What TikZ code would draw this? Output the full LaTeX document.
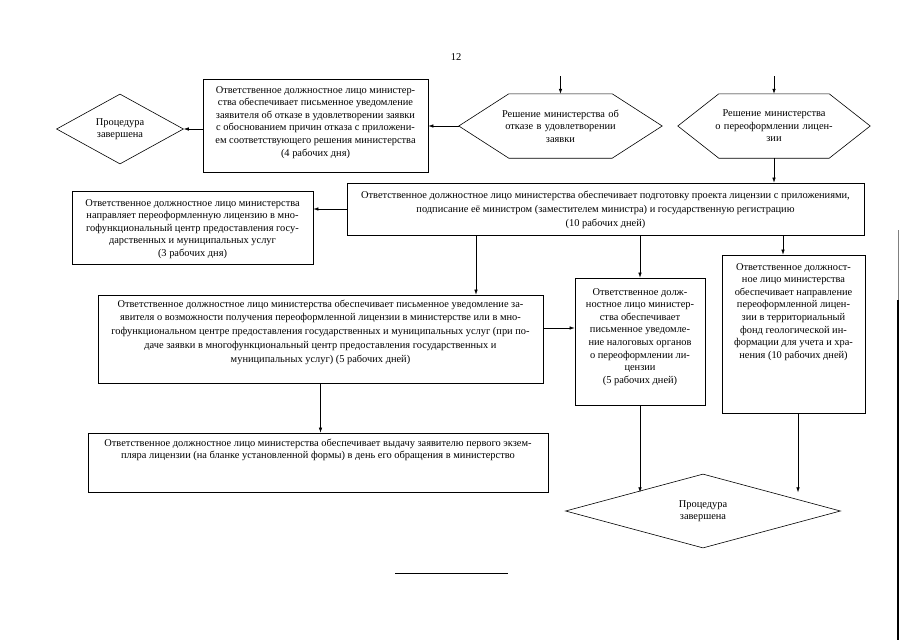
\documentclass[tikz,border=0pt]{standalone}
\usepackage{fontspec}
\setmainfont{Liberation Serif}
\usetikzlibrary{shapes.geometric,arrows.meta}

\tikzset{
  base/.style={font=\fontsize{10.4}{12.6}\selectfont, inner sep=2pt},
  proc/.style={base, draw, rectangle, line width=0.7pt},
  fin/.style={base, align=center, draw, diamond, inner sep=0pt, line width=0.6pt},
  hexa/.style={base, align=center, inner sep=0pt, minimum height=64pt},
  arr/.style={-{Latex[length=5pt,width=3.5pt]}, line width=0.6pt},
}
% lines of a box, baseline on the first one; optional line stretch
\newcommand{\boxtext}[2][1]{\renewcommand{\arraystretch}{#1}\begin{tabular}[t]{@{}c@{}}#2\end{tabular}}
% frame of a hexagon round a node: name, cut
\newcommand{\hexframe}[2]{\draw[line width=0.6pt] ([xshift=#2]#1.north west) -- ([xshift=-#2]#1.north east) -- (#1.east) -- ([xshift=-#2]#1.south east) -- ([xshift=#2]#1.south west) -- (#1.west) -- cycle;}

\begin{document}
\begin{tikzpicture}[x=1pt,y=1pt,yscale=-1]
\useasboundingbox (0,0) rectangle (905,640);

% page number
\node[font=\fontsize{10.5}{12}\selectfont] (page) at (456,57) {12};

% top row
\node[fin, minimum width=127pt, minimum height=70pt] (endL) at (120,129) {Процедура\\завершена};
\node[proc, minimum width=225pt, text height=12pt, text depth=77pt] (rej) at (315.5,125.5)
  {\boxtext{Ответственное должностное лицо министер-\\ства обеспечивает письменное уведомление\\заявителя об отказе в удовлетворении заявки\\с обоснованием причин отказа с приложени-\\ем соответствующего решения министерства\\(4 рабочих дня)}};
\node[hexa, text width=203pt] (decA) at (560.5,126) {Решение министерства об\\отказе в удовлетворении\\заявки};
\hexframe{decA}{50pt}
\node[hexa, text width=192pt] (decB) at (774,126) {Решение министерства\\о переоформлении лицен-\\зии};
\hexframe{decB}{41pt}
\coordinate (inA) at (560.5,76);
\coordinate (inB) at (774,76);

% second row
\node[proc, minimum width=517pt, text height=13pt, text depth=35pt] (prep) at (605.5,209)
  {\boxtext[1.12]{Ответственное должностное лицо министерства обеспечивает подготовку проекта лицензии с приложениями,\\подписание её министром (заместителем министра) и государственную регистрацию\\(10 рабочих дней)}};
\node[proc, minimum width=241pt, text height=13pt, text depth=56pt] (mfc) at (192.5,227.5)
  {\boxtext{Ответственное должностное лицо министерства\\направляет переоформленную лицензию в мно-\\гофункциональный центр предоставления госу-\\дарственных и муниципальных услуг\\(3 рабочих дня)}};

% third row
\node[proc, minimum width=445pt, text height=10pt, text depth=74pt] (notify) at (320.5,339)
  {\boxtext[1.1]{Ответственное должностное лицо министерства обеспечивает письменное уведомление за-\\явителя о возможности получения переоформленной лицензии в министерстве или в мно-\\гофункциональном центре предоставления государственных и муниципальных услуг (при по-\\даче заявки в многофункциональный центр предоставления государственных и\\муниципальных услуг) (5 рабочих дней)}};
\node[proc, minimum width=130pt, text height=15pt, text depth=108pt] (tax) at (640,341.5)
  {\boxtext{Ответственное долж-\\ностное лицо министер-\\ства обеспечивает\\письменное уведомле-\\ние налоговых органов\\о переоформлении ли-\\цензии\\(5 рабочих дней)}};
\node[proc, minimum width=143pt, text height=13pt, text depth=141pt] (geo) at (793.5,334)
  {\boxtext{Ответственное должност-\\ное лицо министерства\\обеспечивает направление\\переоформленной лицен-\\зии в территориальный\\фонд геологической ин-\\формации для учета и хра-\\нения (10 рабочих дней)}};

% bottom row
\node[proc, minimum width=460pt, text height=11pt, text depth=44pt] (issue) at (318,462.5)
  {\boxtext{Ответственное должностное лицо министерства обеспечивает выдачу заявителю первого экзем-\\пляра лицензии (на бланке установленной формы) в день его обращения в министерство}};
\node[fin, minimum width=275pt, minimum height=74pt] (endB) at (703,511) {Процедура\\завершена};

% connectors
\draw[arr] (inA) -- (decA.north);
\draw[arr] (inB) -- (decB.north);
\draw[arr] (decA.west) -- (decA.west -| rej.east);
\draw[arr] (rej.west |- endL.east) -- (endL.east);
\draw[arr] (decB.south) -- (decB.south |- prep.north);
\draw[arr] (prep.west) -- (prep.west -| mfc.east);
\draw[arr] (476,0 |- prep.south) -- (476,0 |- notify.north);
\draw[arr] (prep.south -| tax.north) -- (tax.north);
\draw[arr] (783,0 |- prep.south) -- (783,0 |- geo.north);
\draw[arr] (0,328 -| notify.east) -- (0,328 -| tax.west);
\draw[arr] (notify.south) -- (notify.south |- issue.north);
\draw[arr] (tax.south) -- (tax.south |- endB.north west);
\draw[arr] (798,0 |- geo.south) -- (798,0 |- endB.north east);

% footnote rule and page edge
\draw[line width=0.8pt] (395,573) -- (508,573);
\draw[line width=1pt, gray] (898,230) -- (898,300);
\draw[line width=1.6pt] (898,300) -- (898,640);

\end{tikzpicture}
\end{document}
